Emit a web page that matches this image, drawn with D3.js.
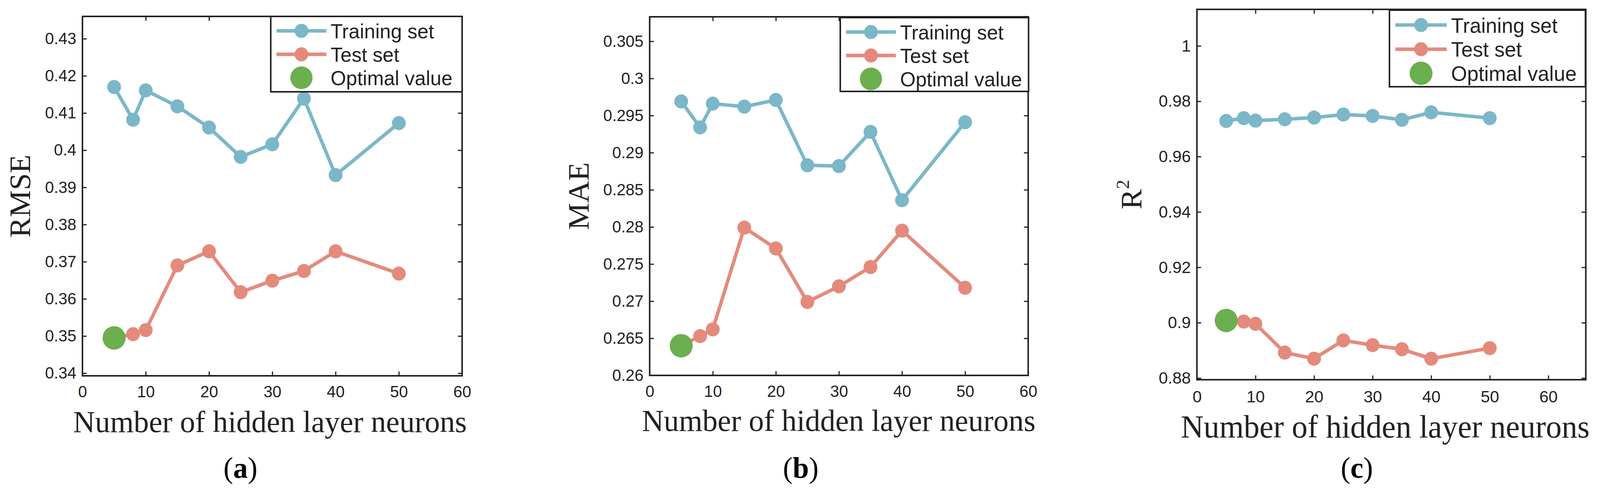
<!DOCTYPE html>
<html>
<head>
<meta charset="utf-8">
<script src="https://cdn.jsdelivr.net/npm/d3@7"></script>
<style>
  html, body { margin: 0; padding: 0; background: #fff; overflow: hidden; }
  svg { display: block; width: 100vw; height: 100vh; }
</style>
</head>
<body>
<div id="chart"></div>
<script>
// hidden layer sizes tested
const neurons = [5, 8, 10, 15, 20, 25, 30, 35, 40, 50];

const rmseTrain = [0.4170, 0.4082, 0.4161, 0.4118, 0.4061, 0.3982, 0.4016, 0.4139, 0.3933, 0.4073];
const rmseTest  = [0.3495, 0.3505, 0.3516, 0.3690, 0.3728, 0.3618, 0.3649, 0.3675, 0.3728, 0.3668];
const maeTrain  = [0.2969, 0.2934, 0.2966, 0.2962, 0.2971, 0.2883, 0.2882, 0.2928, 0.2836, 0.2941];
const maeTest   = [0.2640, 0.2653, 0.2662, 0.2799, 0.2771, 0.2699, 0.2720, 0.2746, 0.2795, 0.2718];
const r2Train   = [0.9729, 0.9739, 0.9730, 0.9735, 0.9741, 0.9752, 0.9747, 0.9733, 0.9760, 0.9739];
const r2Test    = [0.9008, 0.9004, 0.8996, 0.8892, 0.8870, 0.8936, 0.8919, 0.8904, 0.8870, 0.8908];

// optimal point [neurons, value]
const rmseOptimal = [5, 0.3495];
const maeOptimal  = [5, 0.2640];
const r2Optimal   = [5, 0.9008];

const xTicks = [0, 10, 20, 30, 40, 50, 60];
const xTickLabels = ["0", "10", "20", "30", "40", "50", "60"];
const rmseTicks = [0.34, 0.35, 0.36, 0.37, 0.38, 0.39, 0.40, 0.41, 0.42, 0.43];
const rmseTickLabels = ["0.34", "0.35", "0.36", "0.37", "0.38", "0.39", "0.4", "0.41", "0.42", "0.43"];
const maeTicks = [0.26, 0.265, 0.27, 0.275, 0.28, 0.285, 0.29, 0.295, 0.30, 0.305];
const maeTickLabels = ["0.26", "0.265", "0.27", "0.275", "0.28", "0.285", "0.29", "0.295", "0.3", "0.305"];
const r2Ticks = [0.88, 0.90, 0.92, 0.94, 0.96, 0.98, 1.00];
const r2TickLabels = ["0.88", "0.9", "0.92", "0.94", "0.96", "0.98", "1"];

const legendLabels = ["Training set", "Test set", "Optimal value"];
const xTitle = "Number of hidden layer neurons";

const colTrain = "#7bb7c8";
const colTest = "#e48a7c";
const colOpt = "#6baf4f";
const ink = "#222";

// drawing space is fixed at 4172 x 1262 and stretched to whatever the viewport is
var svg = d3.select("#chart").append("svg")
  .attr("viewBox", "0 0 4172 1262")
  .attr("preserveAspectRatio", "none");

var panels = [
  { train: rmseTrain, test: rmseTest, opt: rmseOptimal, yTicks: rmseTicks, yLabels: rmseTickLabels,
    yTitle: "RMSE", cap: "a",
    left: 215, right: 1205, top: 42, bottom: 962, xMax: 60, yDomain: [0.3393, 0.436],
    yTitleX: 78, xTitleX: 704, xTitleY: 1106, xTitleSize: 79, capX: 627,
    xPad: 25, tickSize: 42, leg: { x: 706, y: 42, w: 499, h: 193, k: 1 } },
  { train: maeTrain, test: maeTest, opt: maeOptimal, yTicks: maeTicks, yLabels: maeTickLabels,
    yTitle: "MAE", cap: "b",
    left: 1694, right: 2681, top: 43, bottom: 961, xMax: 60, yDomain: [0.26, 0.3083],
    yTitleX: 1535, xTitleX: 2187, xTitleY: 1103, xTitleSize: 79, capX: 2088,
    xPad: 25, tickSize: 42, leg: { x: 2191, y: 45, w: 491, h: 189, k: 1 } },
  { train: r2Train, test: r2Test, opt: r2Optimal, yTicks: r2Ticks, yLabels: r2TickLabels,
    yTitle: "R", cap: "c", sup: "2",
    left: 3121, right: 4135, top: 24, bottom: 972, xMax: 66.4, yDomain: [0.8794, 1.0132],
    yTitleX: 2976, xTitleX: 3612, xTitleY: 1120, xTitleSize: 82, capX: 3538,
    xPad: 27, tickSize: 43, leg: { x: 3623, y: 26, w: 511, h: 196, k: 1.03 } }
];

function styleAxis(sel, fs) {
  sel.select(".domain").remove();
  sel.selectAll(".tick line").attr("stroke", ink).attr("stroke-width", 3);
  sel.selectAll(".tick text")
    .attr("fill", ink)
    .style("font-family", "'Liberation Sans', Arial, sans-serif")
    .style("font-size", fs + "px");
}

panels.forEach(function (p) {
  var x = d3.scaleLinear().domain([0, p.xMax]).range([p.left, p.right]);
  var y = d3.scaleLinear().domain(p.yDomain).range([p.bottom, p.top]);
  var g = svg.append("g");

  // axes, ticks pointing inward on all four sides
  g.append("g")
    .attr("transform", "translate(0," + p.bottom + ")")
    .call(d3.axisBottom(x).tickValues(xTicks).tickFormat((d, i) => xTickLabels[i])
      .tickSizeInner(-11).tickSizeOuter(0).tickPadding(p.xPad))
    .call(s => styleAxis(s, p.tickSize));
  g.append("g")
    .attr("transform", "translate(0," + p.top + ")")
    .call(d3.axisTop(x).tickValues(xTicks).tickFormat("").tickSizeInner(-11).tickSizeOuter(0))
    .call(s => styleAxis(s, p.tickSize));
  g.append("g")
    .attr("transform", "translate(" + p.left + ",0)")
    .call(d3.axisLeft(y).tickValues(p.yTicks).tickFormat((d, i) => p.yLabels[i])
      .tickSizeInner(-11).tickSizeOuter(0).tickPadding(16))
    .call(s => styleAxis(s, p.tickSize));
  g.append("g")
    .attr("transform", "translate(" + p.right + ",0)")
    .call(d3.axisRight(y).tickValues(p.yTicks).tickFormat("").tickSizeInner(-11).tickSizeOuter(0))
    .call(s => styleAxis(s, p.tickSize));

  g.append("rect")
    .attr("x", p.left).attr("y", p.top)
    .attr("width", p.right - p.left).attr("height", p.bottom - p.top)
    .attr("fill", "none").attr("stroke", ink).attr("stroke-width", 4);

  var line = d3.line().x((d, i) => x(neurons[i])).y(d => y(d));

  [[p.train, colTrain], [p.test, colTest]].forEach(function (s) {
    g.append("path")
      .datum(s[0])
      .attr("d", line)
      .attr("fill", "none")
      .attr("stroke", s[1])
      .attr("stroke-width", 9)
      .attr("stroke-linejoin", "round");
    g.selectAll(null)
      .data(s[0])
      .enter().append("circle")
      .attr("cx", (d, i) => x(neurons[i]))
      .attr("cy", d => y(d))
      .attr("r", 18)
      .attr("fill", s[1]);
  });

  g.append("circle")
    .attr("cx", x(p.opt[0]))
    .attr("cy", y(p.opt[1]))
    .attr("r", 30)
    .attr("fill", colOpt);

  // legend
  var L = p.leg, k = L.k;
  var lg = g.append("g").attr("transform", "translate(" + L.x + "," + L.y + ")");
  lg.append("rect")
    .attr("width", L.w).attr("height", L.h)
    .attr("fill", "#fff").attr("stroke", ink).attr("stroke-width", 4);
  var rows = [37, 97, 157].map(v => v * k);
  [colTrain, colTest].forEach(function (c, i) {
    lg.append("line")
      .attr("x1", 15 * k).attr("x2", 145 * k)
      .attr("y1", rows[i]).attr("y2", rows[i])
      .attr("stroke", c).attr("stroke-width", 9);
    lg.append("circle")
      .attr("cx", 80 * k).attr("cy", rows[i]).attr("r", 18).attr("fill", c);
  });
  lg.append("circle")
    .attr("cx", 80 * k).attr("cy", rows[2]).attr("r", 29 * k).attr("fill", colOpt);
  legendLabels.forEach(function (t, i) {
    lg.append("text")
      .attr("x", 156 * k)
      .attr("y", rows[i] + 19 * k)
      .attr("fill", ink)
      .style("font-family", "'Liberation Sans', Arial, sans-serif")
      .style("font-size", (52 * k) + "px")
      .text(t);
  });

  // axis titles
  var yt = g.append("text")
    .attr("transform", "translate(" + p.yTitleX + "," + ((p.top + p.bottom) / 2) + ") rotate(-90)")
    .attr("text-anchor", "middle")
    .attr("fill", ink)
    .style("font-family", "'Liberation Serif', 'Times New Roman', serif")
    .style("font-size", "78px")
    .text(p.yTitle);
  if (p.sup) {
    yt.append("tspan").attr("dy", -32).style("font-size", "48px").text(p.sup);
  }

  g.append("text")
    .attr("x", p.xTitleX)
    .attr("y", p.xTitleY)
    .attr("text-anchor", "middle")
    .attr("fill", ink)
    .style("font-family", "'Liberation Serif', 'Times New Roman', serif")
    .style("font-size", p.xTitleSize + "px")
    .text(xTitle);

  // sub-figure caption
  var cap = g.append("text")
    .attr("x", p.capX)
    .attr("y", 1223)
    .attr("text-anchor", "middle")
    .attr("fill", "#000")
    .style("font-family", "'Liberation Serif', 'Times New Roman', serif")
    .style("font-size", "76px");
  cap.append("tspan").text("(");
  cap.append("tspan").style("font-weight", "bold").text(p.cap);
  cap.append("tspan").text(")");
});
</script>
</body>
</html>
